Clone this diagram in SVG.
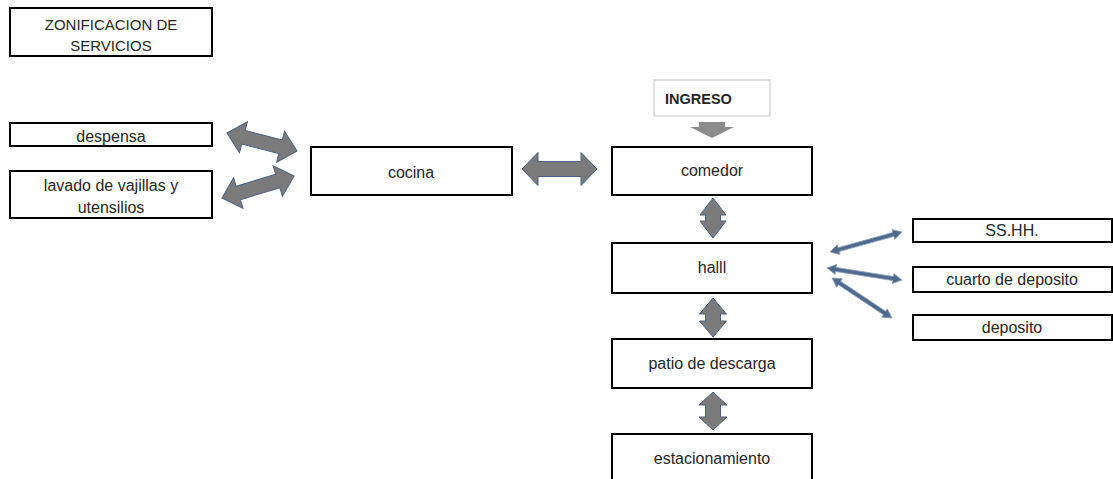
<svg xmlns="http://www.w3.org/2000/svg" width="1113" height="479" viewBox="0 0 1113 479">
<style>
.box{fill:#fff;stroke:#000;stroke-width:2}
.lbl{font-family:"Liberation Sans",Arial,sans-serif;font-size:16px;fill:#262626;text-anchor:middle}
.ttl{font-family:"Liberation Sans",Arial,sans-serif;font-size:15px;fill:#262626;text-anchor:middle}
.blk{fill:#7b7b7b;stroke:#4a6185;stroke-width:1}
.thin{fill:#4f6a8f;stroke:#8a9dbb;stroke-width:0.8}
</style>
<rect width="1113" height="479" fill="#fff"/>
<g id="titulo">
<rect class="box" x="10" y="8" width="202" height="48"/>
<text class="ttl" x="111" y="30">ZONIFICACION DE</text>
<text class="ttl" x="111" y="51">SERVICIOS</text>
</g>
<g id="despensa">
<rect class="box" x="10" y="123" width="202" height="23"/>
<text class="lbl" x="111" y="142">despensa</text>
</g>
<g id="lavado">
<rect class="box" x="10" y="171" width="202" height="47"/>
<text class="lbl" x="111" y="191">lavado de vajillas y</text>
<text class="lbl" x="111" y="213">utensilios</text>
</g>
<g id="cocina">
<rect class="box" x="311" y="147" width="201" height="48"/>
<text class="lbl" x="411" y="178">cocina</text>
</g>
<g id="ingreso">
<rect x="654" y="80" width="116" height="36" fill="#fff" stroke="#c4c4c4" stroke-width="1"/>
<text x="665" y="104" font-family="'Liberation Sans',Arial,sans-serif" font-size="14.5" font-weight="bold" fill="#262626">INGRESO</text>
</g>
<g id="comedor">
<rect class="box" x="612" y="147" width="200" height="48"/>
<text class="lbl" x="712" y="176">comedor</text>
</g>
<g id="halll">
<rect class="box" x="612" y="243" width="200" height="50"/>
<text class="lbl" x="712" y="273">halll</text>
</g>
<g id="patio">
<rect class="box" x="612" y="339" width="200" height="49"/>
<text class="lbl" x="712" y="369">patio de descarga</text>
</g>
<g id="estacionamiento">
<rect class="box" x="612" y="434" width="200" height="60"/>
<text class="lbl" x="712" y="464">estacionamiento</text>
</g>
<g id="sshh">
<rect class="box" x="913" y="219" width="199" height="23"/>
<text class="lbl" x="1012" y="236">SS.HH.</text>
</g>
<g id="cuarto">
<rect class="box" x="913" y="267" width="199" height="25"/>
<text class="lbl" x="1012" y="285">cuarto de deposito</text>
</g>
<g id="deposito">
<rect class="box" x="913" y="315" width="199" height="25"/>
<text class="lbl" x="1012" y="333">deposito</text>
</g>
<g id="connectors">
<!-- despensa <-> cocina -->
<polygon class="blk" transform="translate(227,133) rotate(14.4)" points="0,0 17,-16 17,-7 55.3,-7 55.3,-16 72.3,0 55.3,16 55.3,7 17,7 17,16"/>
<!-- lavado <-> cocina -->
<polygon class="blk" transform="translate(222,198) rotate(-17)" points="0,0 17,-16 17,-7 58.3,-7 58.3,-16 75.3,0 58.3,16 58.3,7 17,7 17,16"/>
<!-- cocina <-> comedor -->
<polygon class="blk" transform="translate(522,169)" points="0,0 16,-16.5 16,-7.5 59,-7.5 59,-16.5 75,0 59,16.5 59,7.5 16,7.5 16,16.5"/>
<!-- ingreso -> comedor -->
<polygon points="699,122 725,122 725,127 734,127 712,138 690,127 699,127" fill="#8c8c8c"/>
<!-- comedor <-> halll -->
<polygon class="blk" transform="translate(713,198) rotate(90)" points="0,0 17,-13 17,-7.5 23,-7.5 23,-13 40,0 23,13 23,7.5 17,7.5 17,13"/>
<!-- halll <-> patio -->
<polygon class="blk" transform="translate(713,298) rotate(90)" points="0,0 16,-13.5 16,-7.5 23,-7.5 23,-13.5 39,0 23,13.5 23,7.5 16,7.5 16,13.5"/>
<!-- patio <-> estacionamiento -->
<polygon class="blk" transform="translate(713,392) rotate(90)" points="0,0 13,-14 13,-7.5 25,-7.5 25,-14 38,0 25,14 25,7.5 13,7.5 13,14"/>
<!-- halll <-> SS.HH. -->
<polygon class="thin" transform="translate(830,252) rotate(-15.5)" points="0,0 9,-5 9,-2 65.7,-2 65.7,-5 74.7,0 65.7,5 65.7,2 9,2 9,5"/>
<!-- halll <-> cuarto de deposito -->
<polygon class="thin" transform="translate(827,268) rotate(9.1)" points="0,0 9,-5 9,-2 67,-2 67,-5 76,0 67,5 67,2 9,2 9,5"/>
<!-- halll <-> deposito -->
<polygon class="thin" transform="translate(832,278) rotate(33.7)" points="0,0 9,-5 9,-2 63.1,-2 63.1,-5 72.1,0 63.1,5 63.1,2 9,2 9,5"/>
</g>
</svg>
